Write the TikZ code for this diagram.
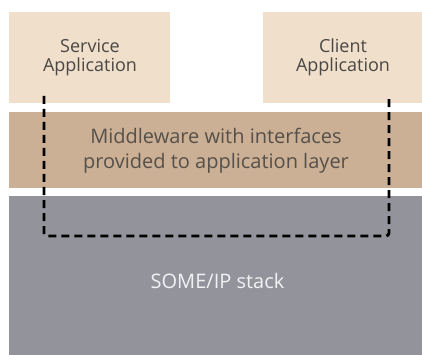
\documentclass[tikz,border=0pt]{standalone}
\usepackage{fontspec}
\setmainfont{Open Sans}
\definecolor{appfill}{HTML}{EFDFCB}
\definecolor{midfill}{HTML}{CBB095}
\definecolor{stackfill}{HTML}{93939B}
\definecolor{darktext}{HTML}{4A4744}
\definecolor{midtext}{HTML}{56504A}
\definecolor{stacktext}{HTML}{F2F2F4}
\begin{document}
\begin{tikzpicture}[x=1pt,y=-1pt,
  layer/.style={draw=none,inner sep=0pt,outer sep=0pt,anchor=north west,align=center},
  path/.style={line width=2.8pt,dash pattern=on 8pt off 5pt,rounded corners=3pt}]
  \useasboundingbox (0,0) rectangle (422,355);
  % application boxes
  \node[layer,fill=appfill,minimum width=161pt,minimum height=91pt] (svc) at (9,12) {};
  \node[layer,fill=appfill,minimum width=159pt,minimum height=91pt] (cli) at (263,12) {};
  % middleware and stack layers
  \node[layer,fill=midfill,minimum width=413pt,minimum height=76pt] (mid) at (9,112) {};
  \node[layer,fill=stackfill,minimum width=413pt,minimum height=159pt] (stk) at (9,196) {};
  % labels
  \node[text=darktext,font=\fontsize{18}{19.5}\selectfont,align=center,inner sep=0pt] (svct) at (90,57.5) {Service\\Application};
  \node[text=darktext,font=\fontsize{18}{19.5}\selectfont,align=center,inner sep=0pt] (clit) at (343,57.5) {Client\\Application};
  \node[text=midtext,font=\fontsize{20}{25}\selectfont,align=center,inner sep=0pt] (midt) at (216,150.5) {Middleware with interfaces\\provided to application layer};
  \node[text=stacktext,font=\fontsize{20}{24}\selectfont,inner sep=0pt] (stkt) at (217.5,281) {SOME/IP stack};
  % communication path through the middleware
  \coordinate (p1) at (44,96);
  \coordinate (p2) at (44,236);
  \coordinate (p3) at (389,236);
  \coordinate (p4) at (389,96);
  \draw[path] (p1) -- (p2) -- (p3) -- (p4);
\end{tikzpicture}
\end{document}
